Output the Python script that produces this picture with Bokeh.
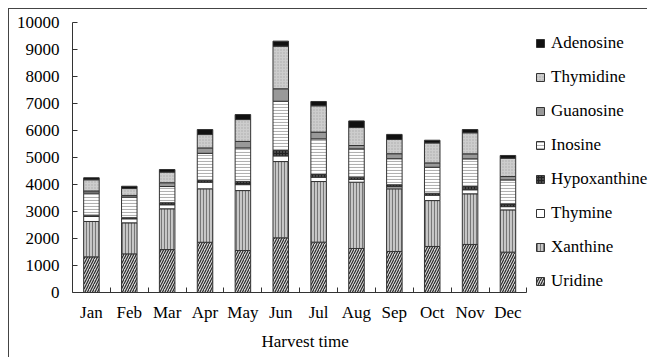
import numpy as np
from bokeh.plotting import figure
from bokeh.models import ColumnDataSource, FixedTicker, Legend, LegendItem, Range1d, Title
from bokeh.embed import file_html
from bokeh.resources import INLINE

months = ["Jan", "Feb", "Mar", "Apr", "May", "Jun", "Jul", "Aug", "Sep", "Oct", "Nov", "Dec"]
series_names = ["Uridine", "Xanthine", "Thymine", "Hypoxanthine", "Inosine", "Guanosine", "Thymidine", "Adenosine"]

uridine      = [1320, 1430, 1590, 1860, 1555, 2025, 1865, 1630, 1520, 1705, 1780, 1495]
xanthine     = [1310, 1150, 1510, 1980, 2220, 2825, 2245, 2455, 2320, 1700, 1875, 1565]
thymine      = [185, 150, 150, 245, 220, 210, 160, 100, 75, 200, 150, 120]
hypoxanthine = [50, 40, 75, 60, 120, 200, 100, 85, 75, 70, 120, 100]
inosine      = [815, 765, 600, 1010, 1240, 1825, 1320, 1050, 965, 965, 1025, 890]
guanosine    = [80, 60, 140, 200, 240, 460, 250, 125, 185, 160, 185, 125]
thymidine    = [415, 255, 395, 495, 810, 1580, 975, 665, 530, 740, 780, 680]
adenosine    = [75, 85, 95, 185, 185, 185, 160, 245, 185, 100, 120, 100]

y_ticks = [0, 1000, 2000, 3000, 4000, 5000, 6000, 7000, 8000, 9000, 10000]

n = len(months)
x = [i + 0.5 for i in range(n)]
src = ColumnDataSource(dict(
    x=x, Uridine=uridine, Xanthine=xanthine, Thymine=thymine, Hypoxanthine=hypoxanthine,
    Inosine=inosine, Guanosine=guanosine, Thymidine=thymidine, Adenosine=adenosine))

FONT = "Liberation Serif"

FRAME_W = 575
CAT_PX = 37.8
p = figure(width=639, height=349, output_backend="svg", toolbar_location=None,
           x_range=Range1d(0, FRAME_W / CAT_PX), y_range=Range1d(0, 10000),
           min_border_left=63, min_border_right=0, min_border_top=13, min_border_bottom=66)
p.margin = (8, 0, 0, 8)
p.styles = {"border-left": "1px solid #444", "border-top": "1px solid #444"}
p.outline_line_color = None
p.xgrid.visible = False
p.ygrid.visible = False
p.background_fill_color = "white"
p.border_fill_color = "white"

fills = ["#d4d4d4", "#c8c8c8", "white", "#222222", "white", "#999999", "#cdcdcd", "#111111"]
hatches = ["/", "|", " ", ".", "-", " ", ".", " "]
hcolors = ["#222222", "#777777", "#333333", "#888888", "#b0b0b0", "#333333", "#aaaaaa", "#333333"]
hscales = [5, 3, 4, 3, 3, 4, 3, 4]

rs = p.vbar_stack(series_names, x="x", width=0.41, source=src,
                  fill_color=fills, hatch_pattern=hatches, hatch_color=hcolors,
                  hatch_scale=hscales, hatch_weight=1.1,
                  line_color="#333333", line_width=1)

# axes
xa = p.xaxis[0]
xa.bounds = (0, n)
xa.ticker = FixedTicker(ticks=x, minor_ticks=list(range(1, n + 1)))
xa.major_label_overrides = {xv: m for xv, m in zip(x, months)}
xa.major_tick_in = 0
xa.major_tick_out = 0
xa.minor_tick_in = 5
xa.minor_tick_out = 0
xa.axis_line_color = "#333333"
xa.minor_tick_line_color = "#333333"
xa.major_label_text_font = FONT
xa.major_label_text_font_size = "17px"
xa.major_label_text_color = "black"
xa.major_label_standoff = 10

xtitle = Title(text="Harvest time", align="left", offset=189, standoff=10,
               text_font=FONT, text_font_size="17px", text_font_style="normal",
               text_color="black")
p.add_layout(xtitle, "below")

ya = p.yaxis[0]
ya.ticker = FixedTicker(ticks=y_ticks)
ya.major_tick_in = 5
ya.major_tick_out = 0
ya.minor_tick_line_color = None
ya.axis_line_color = "#333333"
ya.major_tick_line_color = "#333333"
ya.major_label_text_font = FONT
ya.major_label_text_font_size = "17px"
ya.major_label_text_color = "black"
ya.major_label_standoff = 13

items = [LegendItem(label=s, renderers=[r]) for s, r in zip(series_names, rs)][::-1]
legend = Legend(items=items, location=(463, 1), orientation="vertical")
legend.padding = 0
legend.margin = 0
legend.border_line_color = None
legend.background_fill_alpha = 0
legend.glyph_width = 10
legend.glyph_height = 10
legend.label_height = 20
legend.spacing = 14
legend.label_standoff = 6
legend.label_text_font = FONT
legend.label_text_font_size = "17px"
legend.label_text_color = "black"
legend.label_text_baseline = "middle"
p.add_layout(legend)

open("out.html", "w").write(file_html(p, INLINE))
